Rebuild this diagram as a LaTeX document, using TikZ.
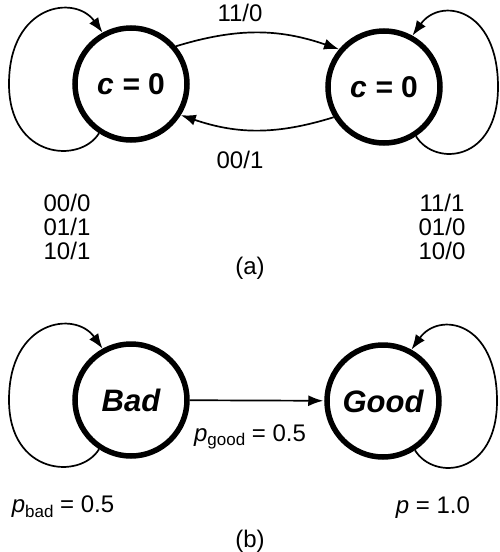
\documentclass[tikz,border=0pt]{standalone}
\usepackage{fontspec}
\setmainfont{Liberation Sans}
\usetikzlibrary{arrows.meta,calc}
\tikzset{
  state/.style={circle,draw,line width=5.5pt,minimum size=112pt,inner sep=0pt,font=\fontsize{31}{34}\selectfont\bfseries\itshape},
  arr/.style={line width=1.7pt,-{Latex[length=15pt,width=11pt]}},
  lbl/.style={font=\fontsize{24}{25}\selectfont,inner sep=0pt,align=center},
}
\newcommand{\loopL}[1]{\draw[arr] (#1.237) .. controls ($(#1)+(-51,80)$) and ($(#1)+(-122,75)$) .. ($(#1)+(-122,0)$) .. controls ($(#1)+(-122,-80)$) and ($(#1)+(-56,-90)$) .. (#1.119);}
\newcommand{\loopR}[1]{\draw[arr] (#1.303) .. controls ($(#1)+(51,80)$) and ($(#1)+(114,75)$) .. ($(#1)+(114,0)$) .. controls ($(#1)+(114,-80)$) and ($(#1)+(56,-90)$) .. (#1.61);}
\begin{document}
\begin{tikzpicture}[x=1pt,y=-1pt]
\useasboundingbox (0,0) rectangle (499,552);
% (a)
\node[state,font=\fontsize{30}{34}\selectfont\bfseries\itshape] (A1) at (131,84) {c = \upshape 0};
\node[state,font=\fontsize{30}{34}\selectfont\bfseries\itshape] (A2) at (384,87) {c = \upshape 0};
\loopL{A1}
\loopR{A2}
\draw[arr] (A1.40) to[bend left=18] (A2.140);
\draw[arr] (A2.211) to[bend left=18] (A1.328);
\node[lbl] (l11) at (240,13) {11/0};
\node[lbl] (l00) at (240,160) {00/1};
\node[lbl] (lL1) at (67,203) {00/0};
\node[lbl] (lL2) at (67,227) {01/1};
\node[lbl] (lL3) at (67,251) {10/1};
\node[lbl] (lR1) at (442,203) {11/1};
\node[lbl] (lR2) at (442,227) {01/0};
\node[lbl] (lR3) at (442,251) {10/0};
\node[lbl] (ca) at (250,268) {(a)};
% (b)
\node[state] (B1) at (131,400) {Bad};
\node[state] (B2) at (383,401) {Good};
\loopL{B1}
\loopR{B2}
\draw[arr,shorten >=1pt] (B1) -- (B2);
\node[lbl] (pg) at (250,437) {\textit{p}\raisebox{-0.35ex}{\fontsize{17}{18}\selectfont good} = 0.5};
\node[lbl] (pb) at (63,507) {\textit{p}\raisebox{-0.35ex}{\fontsize{17}{18}\selectfont bad} = 0.5};
\node[lbl] (p1) at (433,508) {\textit{p} = 1.0};
\node[lbl] (cb) at (250,541) {(b)};
\end{tikzpicture}
\end{document}
